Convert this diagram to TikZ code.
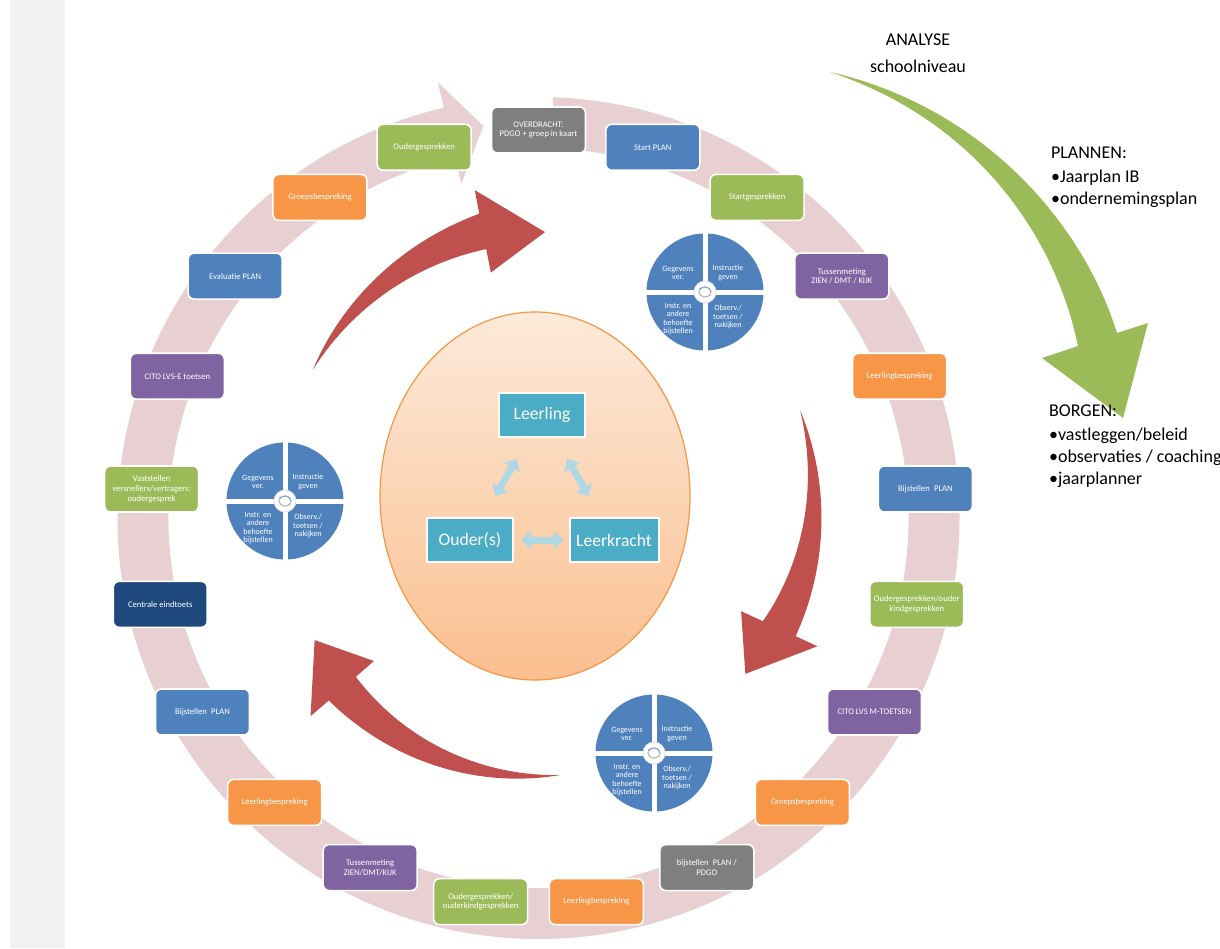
\documentclass[tikz,border=0pt]{standalone}
\usepackage{fontspec}
\setmainfont{Carlito}
\usetikzlibrary{shapes.geometric,arrows.meta}

\definecolor{strookgrijs}{HTML}{F2F2F2}
\definecolor{ringroze}{HTML}{E8D0D2}
\definecolor{stapgrijs}{HTML}{7F7F7F}
\definecolor{stapblauw}{HTML}{4F81BD}
\definecolor{stapgroen}{HTML}{9BBB59}
\definecolor{stappaars}{HTML}{8064A2}
\definecolor{staporanje}{HTML}{F79646}
\definecolor{stapnavy}{HTML}{1F497D}
\definecolor{pijlrood}{HTML}{C0504D}
\definecolor{pijlgroen}{HTML}{9BBB59}
\definecolor{spilteal}{HTML}{4BACC6}
\definecolor{lichtblauw}{HTML}{B0D8E4}
\definecolor{boltop}{HTML}{FDEADA}
\definecolor{bolbodem}{HTML}{FABF8F}
\definecolor{bolrand}{HTML}{F79646}

\begin{document}
\begin{tikzpicture}[x=0.5pt,y=-0.5pt,
	stap/.style={rounded corners=3pt,draw=white,line width=0.8pt,minimum width=47pt,minimum height=23pt,
		inner sep=1pt,text=white,align=center,font=\fontsize{4.3}{4.9}\selectfont},
	spil/.style={draw=white,line width=1pt,fill=spilteal,text=white,minimum width=43pt,minimum height=22pt,
		font=\fontsize{8.8}{10}\selectfont},
	dubbel/.style={draw=lichtblauw,line width=3.5pt,{Triangle[width=9pt,length=5pt]}-{Triangle[width=9pt,length=5pt]}},
	kwart/.style={text=white,align=center,font=\fontsize{4}{4.2}\selectfont},
	kop/.style={anchor=west,font=\fontsize{9}{11}\selectfont}]

	\useasboundingbox (0,0) rectangle (1220,948);
	\fill[white] (0,0) rectangle (1220,948);
	\fill[strookgrijs] (10,0) rectangle (65,948);

	\begin{scope}[shift={(538.5,518)},yscale=-1]
		% ring met pijlpunt
		\fill[ringroze] (88:421) arc[start angle=88,end angle=-257,radius=421] -- (-257:447) -- (-262:396)
			-- (-257:343) -- (-257:370) arc[start angle=-257,end angle=88,radius=370] -- cycle;

		\foreach \aT/\rT/\aB/\rB/\aP/\rP in {146.7/270/101/292/88.7/286, 22.4/283/-24.7/265/-37/259, -85.2/258/-139/260/-151.4/255}{
			\fill[pijlrood] (\aT:\rT) -- plot[domain=0:1,samples=30] ({\aT+(\aB-\aT)*\x}:{\rT+(\rB-\rT)*\x+18*\x})
				-- (\aB:{\rB+42}) -- (\aP:\rP) -- (\aB:{\rB-42})
				-- plot[domain=1:0,samples=30] ({\aT+(\aB-\aT)*\x}:{\rT+(\rB-\rT)*\x-18*\x}) -- cycle;
		}

		\foreach \tekst/\kleur [count=\k from 0] in {
			{OVERDRACHT:\\PDGO + groep in kaart}/stapgrijs, {Start PLAN}/stapblauw, {Startgesprekken}/stapgroen,
			{Tussenmeting\\ZIEN / DMT / KIJK}/stappaars, {Leerlingbespreking}/staporanje, {Bijstellen\enspace PLAN}/stapblauw,
			{Oudergesprekken/ouder\\kindgesprekken}/stapgroen, {CITO LVS M-TOETSEN}/stappaars, {Groepsbespreking}/staporanje,
			{bijstellen\enspace PLAN /\\PDGO}/stapgrijs, {Leerlingbespreking}/staporanje, {Oudergesprekken/\\ouderkindgesprekken}/stapgroen,
			{Tussenmeting\\ZIEN/DMT/KIJK}/stappaars, {Leerlingbespreking}/staporanje, {Bijstellen\enspace PLAN}/stapblauw,
			{Centrale eindtoets}/stapnavy, {Vaststellen\\versnellers/vertragers:\\oudergesprek}/stapgroen,
			{CITO LVS-E toetsen}/stappaars, {Evaluatie PLAN}/stapblauw, {Groepsbespreking}/staporanje, {Oudergesprekken}/stapgroen}{
			\node[stap,fill=\kleur] (stap\k) at ({90-\k*360/21}:388) {\tekst};
		}
	\end{scope}

	% kwadrantcirkels
	\foreach \q/\cx/\cy in {1/705/292, 2/285/501, 3/654/753}{
		\fill[stapblauw] (\cx,\cy) circle[radius=58.5];
		\draw[white,line width=2.5pt] (\cx-60,\cy) -- (\cx+60,\cy) (\cx,\cy-60) -- (\cx,\cy+60);
		\node[circle,fill=white,draw=gray!25,line width=0.4pt,minimum size=11pt,inner sep=0pt] (kring\q) at (\cx,\cy) {};
		\draw[gray!55,line width=0.6pt,-{Stealth[length=1.6pt]}] (\cx-6,\cy-1) arc[start angle=180,end angle=20,radius=6];
		\draw[stapblauw!70,line width=0.6pt,-{Stealth[length=1.6pt]}] (\cx+6,\cy+1) arc[start angle=0,end angle=-160,radius=6];
		\node[kwart] (kwart\q a) at (\cx-27,\cy-19) {Gegevens\\ver.};
		\node[kwart] (kwart\q b) at (\cx+23,\cy-19) {Instructie\\geven};
		\node[kwart] (kwart\q c) at (\cx-27,\cy+27) {Instr. en\\andere\\behoefte\\bijstellen};
		\node[kwart] (kwart\q d) at (\cx+23,\cy+25) {Observ./\\toetsen /\\nakijken};
	}

	\node[ellipse,minimum width=155pt,minimum height=184pt,draw=bolrand,line width=0.6pt,
		top color=boltop,bottom color=bolbodem] (bol) at (535,496) {};
	\node[spil] (leerling) at (542,415) {Leerling};
	\node[spil] (ouder) at (470,540) {Ouder(s)};
	\node[spil] (leerkracht) at (614,540) {Leerkracht};
	\draw[dubbel,shorten <=3.5pt,shorten >=2.5pt] (ouder) -- (leerkracht);
	\draw[dubbel,shorten <=12pt,shorten >=12pt] (leerling) -- (ouder);
	\draw[dubbel,shorten <=12pt,shorten >=12pt] (leerling) -- (leerkracht);

	\fill[pijlgroen] (830,72) .. controls (975,105) and (1080,215) .. (1117,333) -- (1148,323) -- (1123,418)
		-- (1042,358) -- (1078,346) .. controls (1055,235) and (975,120) .. (830,72) -- cycle;

	\node[kop,anchor=center] (analyse) at (918,40) {ANALYSE};
	\node[kop,anchor=center] (schoolniveau) at (918,66) {schoolniveau};
	\node[kop] (plannen) at (1044,153) {PLANNEN:};
	\node[kop] (plan1) at (1044,178) {•Jaarplan IB};
	\node[kop] (plan2) at (1044,200) {•ondernemingsplan};
	\node[kop] (borgen) at (1042,411) {BORGEN:};
	\node[kop] (borg1) at (1042,436) {•vastleggen/beleid};
	\node[kop] (borg2) at (1042,458) {•observaties / coaching};
	\node[kop] (borg3) at (1042,480) {•jaarplanner};
\end{tikzpicture}
\end{document}
